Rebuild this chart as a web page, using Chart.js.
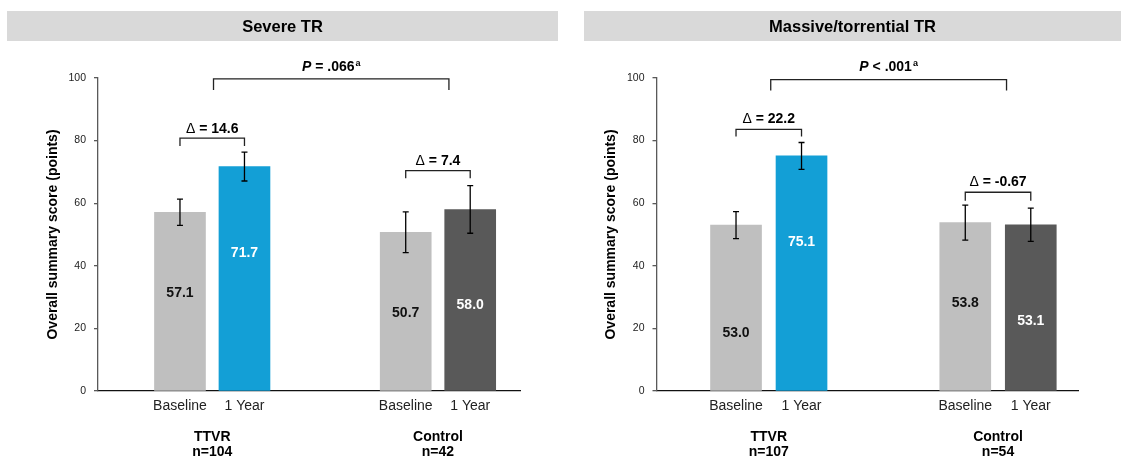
<!DOCTYPE html>
<html><head><meta charset="utf-8">
<script src="https://cdn.jsdelivr.net/npm/chart.js@4"></script>
<style>
html,body{margin:0;padding:0;background:#fff;}
#wrap{position:relative;width:1124px;height:461px;overflow:hidden;}
canvas{position:absolute;top:0;}
</style></head><body>
<div id="wrap">
<canvas id="c1" width="562" height="461" style="left:0"></canvas>
<canvas id="c2" width="562" height="461" style="left:562px"></canvas>
</div>
<script>
// ---- data ----
const barLabels = ['Baseline', '1 Year', 'Baseline', '1 Year'];
const barSlots = [1, 2, 4.5, 5.5];
const groupSlots = [1.5, 5];
const yTicks = [0, 20, 40, 60, 80, 100];
const yAxisTitle = 'Overall summary score (points)';

const severeTitle = 'Severe TR';
const severeValues = [57.1, 71.7, 50.7, 58.0];
const severeErrors = [4.2, 4.6, 6.5, 7.6];
const severeGroups = [['TTVR', 'n=104'], ['Control', 'n=42']];
const severeDeltas = ['14.6', '7.4'];
const severeP = ['=', '.066'];

const massiveTitle = 'Massive/torrential TR';
const massiveValues = [53.0, 75.1, 53.8, 53.1];
const massiveErrors = [4.3, 4.3, 5.6, 5.3];
const massiveGroups = [['TTVR', 'n=107'], ['Control', 'n=54']];
const massiveDeltas = ['22.2', '-0.67'];
const massiveP = ['<', '.001'];

// ---- styles ----
const FONT = "'Liberation Sans', Arial, Helvetica, sans-serif";
const barColors = ['#BFBFBF', '#139FD6', '#BFBFBF', '#595959'];
const valueColors = ['#111111', '#FFFFFF', '#111111', '#FFFFFF'];

function bracket(ctx, x1, x2, yTop, yLeg) {
  ctx.beginPath();
  ctx.moveTo(x1, yLeg);
  ctx.lineTo(x1, yTop);
  ctx.lineTo(x2, yTop);
  ctx.lineTo(x2, yLeg);
  ctx.stroke();
}

const annot = {
  id: 'annot',
  beforeDraw(chart, args, o) {
    const ctx = chart.ctx;
    const b = o.titleBox;
    ctx.save();
    ctx.fillStyle = '#D9D9D9';
    ctx.fillRect(b[0], b[1], b[2] - b[0], b[3] - b[1]);
    ctx.fillStyle = '#000';
    ctx.font = 'bold 16.5px ' + FONT;
    ctx.textAlign = 'center';
    ctx.textBaseline = 'middle';
    ctx.fillText(o.title, (b[0] + b[2]) / 2, (b[1] + b[3]) / 2 + 1);
    ctx.restore();
  },
  afterDatasetsDraw(chart, args, o) {
    const ctx = chart.ctx;
    const x = chart.scales.x, y = chart.scales.y;
    const ds = chart.data.datasets[0];
    ctx.save();
    // error bars + value labels
    ds.data.forEach((pt, i) => {
      const px = x.getPixelForValue(pt.x);
      const e = o.errors[i];
      const yt = y.getPixelForValue(pt.y + e), yb = y.getPixelForValue(pt.y - e);
      ctx.strokeStyle = '#000';
      ctx.lineWidth = 1.3;
      ctx.beginPath();
      ctx.moveTo(px, yt); ctx.lineTo(px, yb);
      ctx.moveTo(px - 3, yt); ctx.lineTo(px + 3, yt);
      ctx.moveTo(px - 3, yb); ctx.lineTo(px + 3, yb);
      ctx.stroke();
      ctx.fillStyle = o.valueColors[i];
      ctx.font = 'bold 14px ' + FONT;
      ctx.textAlign = 'center';
      ctx.textBaseline = 'middle';
      ctx.fillText(pt.y.toFixed(1), px, y.getPixelForValue(o.labelAt[i]));
    });
    // delta brackets
    ctx.strokeStyle = '#222';
    ctx.lineWidth = 1.3;
    o.deltaBrackets.forEach((d, k) => {
      const x1 = x.getPixelForValue(barSlots[d.from]);
      const x2 = x.getPixelForValue(barSlots[d.to]);
      bracket(ctx, x1, x2, y.getPixelForValue(d.top), y.getPixelForValue(d.leg));
      const cx = (x1 + x2) / 2, ty = y.getPixelForValue(d.text);
      const s1 = '\u0394', s2 = ' = ' + o.deltas[k];
      ctx.font = '14px ' + FONT;
      const w1 = ctx.measureText(s1).width;
      ctx.font = 'bold 14px ' + FONT;
      const w2 = ctx.measureText(s2).width;
      let sx = cx - (w1 + w2) / 2;
      ctx.fillStyle = '#000';
      ctx.textAlign = 'left';
      ctx.textBaseline = 'middle';
      ctx.font = '14px ' + FONT;
      ctx.fillText(s1, sx, ty);
      ctx.font = 'bold 14px ' + FONT;
      ctx.fillText(s2, sx + w1, ty);
    });
    // P bracket
    const p = o.pBracket;
    const px1 = x.getPixelForValue(p.from), px2 = x.getPixelForValue(p.to);
    bracket(ctx, px1, px2, y.getPixelForValue(p.top), y.getPixelForValue(p.leg));
    const pcx = (px1 + px2) / 2, pty = y.getPixelForValue(p.text);
    const t1 = 'P', t2 = ' ' + o.p[0] + ' ' + o.p[1], t3 = 'a';
    ctx.font = 'italic bold 14px ' + FONT; const a1 = ctx.measureText(t1).width;
    ctx.font = 'bold 14px ' + FONT; const a2 = ctx.measureText(t2).width;
    ctx.font = 'bold 9px ' + FONT; const a3 = ctx.measureText(t3).width;
    let sx = pcx - (a1 + a2 + a3 + 1) / 2;
    ctx.fillStyle = '#000';
    ctx.textAlign = 'left';
    ctx.textBaseline = 'middle';
    ctx.font = 'italic bold 14px ' + FONT; ctx.fillText(t1, sx, pty);
    ctx.font = 'bold 14px ' + FONT; ctx.fillText(t2, sx + a1, pty);
    ctx.font = 'bold 9px ' + FONT; ctx.fillText(t3, sx + a1 + a2 + 1, pty - 4);
    ctx.restore();
  }
};

function makeChart(id, cfg) {
  const tickFont = { family: FONT, size: 14 };
  return new Chart(document.getElementById(id), {
    type: 'bar',
    data: {
      datasets: [{
        data: cfg.values.map((v, i) => ({ x: barSlots[i], y: v })),
        backgroundColor: barColors,
        borderWidth: 0,
        barThickness: 51
      }]
    },
    options: {
      responsive: false,
      animation: false,
      events: [],
      layout: { padding: { left: 0, right: cfg.padRight, top: 78, bottom: 0 } },
      plugins: {
        legend: { display: false },
        tooltip: { enabled: false },
        annot: {
          title: cfg.title, titleBox: cfg.titleBox, errors: cfg.errors,
          valueColors: valueColors, labelAt: cfg.labelAt,
          deltas: cfg.deltas, deltaBrackets: cfg.deltaBrackets,
          p: cfg.p, pBracket: cfg.pBracket
        }
      },
      scales: {
        x: {
          type: 'linear', position: 'bottom', weight: 1, clip: false,
          min: cfg.xMin, max: cfg.xMax, offset: false,
          afterBuildTicks: s => { s.ticks = barSlots.map(v => ({ value: v })); },
          afterFit: s => { s.height = 26; },
          ticks: { callback: (v, i) => barLabels[i], autoSkip: false, maxRotation: 0, padding: 7, font: tickFont, color: '#222' },
          grid: { display: false, drawTicks: false, offset: false },
          border: { display: true, color: '#111', width: 1.3 }
        },
        x2: {
          type: 'linear', position: 'bottom', weight: 2, clip: false,
          min: cfg.xMin, max: cfg.xMax, offset: false,
          afterBuildTicks: s => { s.ticks = groupSlots.map(v => ({ value: v })); },
          afterFit: s => { s.height = 44; },
          ticks: { callback: (v, i) => cfg.groups[i], autoSkip: false, maxRotation: 0, padding: 12,
                   font: { family: FONT, size: 14, weight: 'bold', lineHeight: 1.12 }, color: '#000' },
          grid: { display: false, drawTicks: false },
          border: { display: false }
        },
        y: {
          min: 0, max: 100, clip: false,
          afterBuildTicks: s => { s.ticks = yTicks.map(v => ({ value: v })); },
          afterFit: s => { s.width = cfg.axisX; },
          ticks: { font: { family: FONT, size: 10.5 }, padding: 8, color: '#222' },
          grid: { drawOnChartArea: false, drawTicks: true, tickLength: 4, color: '#595959', lineWidth: 1.3 },
          border: { display: true, color: '#595959', width: 1.3 },
          title: { display: true, text: yAxisTitle, color: '#000',
                   font: { family: FONT, size: 14, weight: 'bold' }, padding: { top: cfg.titlePad, bottom: 0 } }
        }
      }
    },
    plugins: [annot]
  });
}

makeChart('c1', {
  title: severeTitle, titleBox: [7, 11, 558, 41],
  values: severeValues, errors: severeErrors, groups: severeGroups,
  deltas: severeDeltas, p: severeP,
  labelAt: [31.3, 44, 25, 27.4],
  deltaBrackets: [{ from: 0, to: 1, top: 80.8, leg: 78.3, text: 83.8 },
                  { from: 2, to: 3, top: 70.4, leg: 68.0, text: 73.5 }],
  pBracket: { from: 1.52, to: 5.17, top: 99.7, leg: 96.2, text: 103.4 },
  axisX: 98, padRight: 42, xMin: -0.271, xMax: 6.272, titlePad: 44.5
});

makeChart('c2', {
  title: massiveTitle, titleBox: [22, 11, 559, 41],
  values: massiveValues, errors: massiveErrors, groups: massiveGroups,
  deltas: massiveDeltas, p: massiveP,
  labelAt: [18.5, 47.7, 28.2, 22.4],
  deltaBrackets: [{ from: 0, to: 1, top: 83.6, leg: 81.3, text: 87.0 },
                  { from: 2, to: 3, top: 63.5, leg: 60.8, text: 66.6 }],
  pBracket: { from: 1.53, to: 5.13, top: 99.5, leg: 96.0, text: 103.4 },
  axisX: 94.5, padRight: 46, xMin: -0.214, xMax: 6.221, titlePad: 41
});
</script>
</body></html>
